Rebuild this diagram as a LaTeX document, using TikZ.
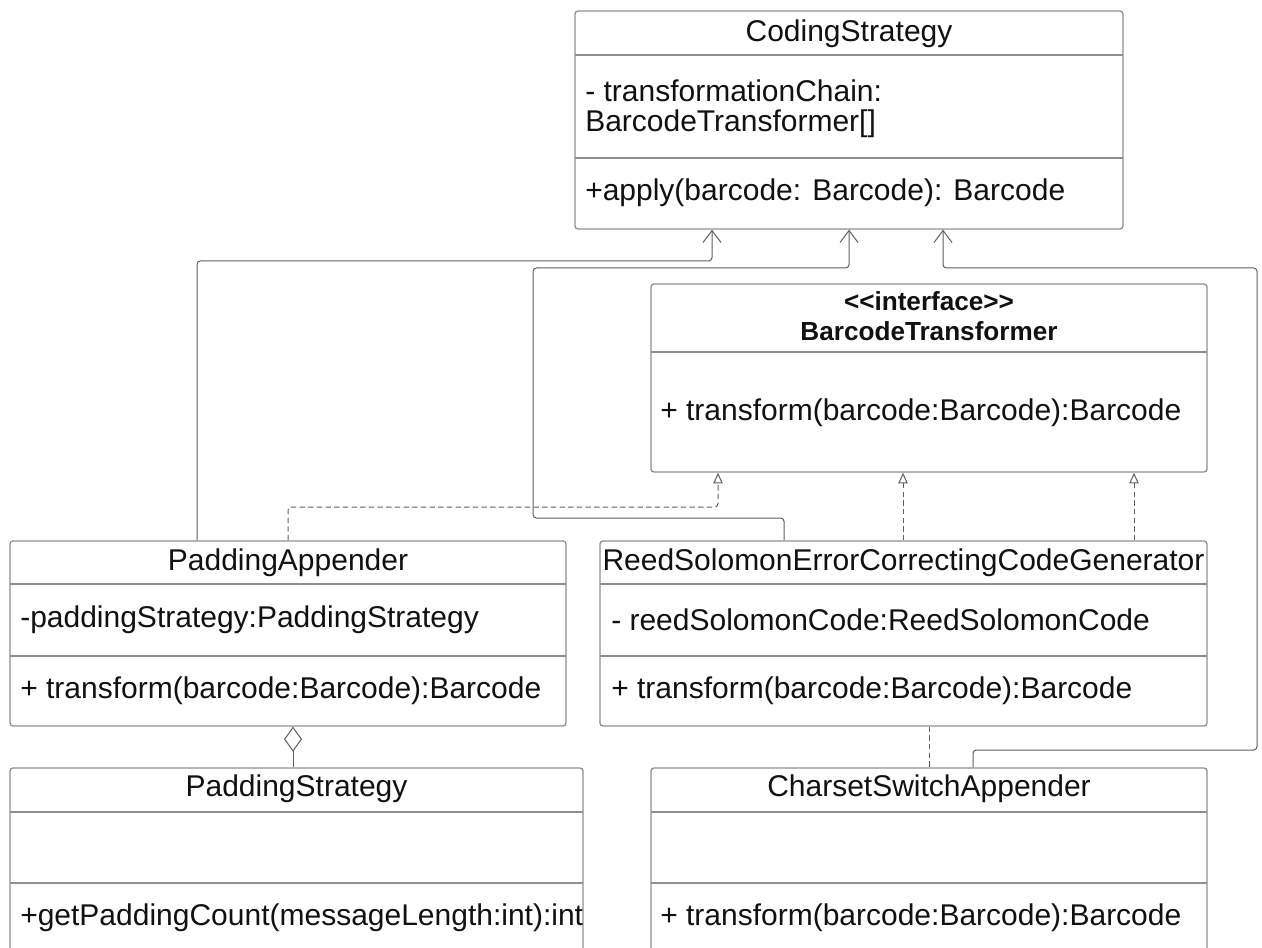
\documentclass[tikz,border=0pt]{standalone}
\usepackage{fontspec}
\setmainfont{Liberation Sans}
\usepackage{tikz}
\usetikzlibrary{arrows.meta, fit}
\definecolor{boxline}{HTML}{8C8F94}
\definecolor{wireline}{HTML}{5B5E64}
\definecolor{inktext}{HTML}{111111}
\tikzset{
  classbox/.style={draw=boxline, line width=1pt, rounded corners=2.25pt, inner sep=0pt},
  divider/.style={draw=boxline, line width=1pt},
  title/.style={font=\fontsize{22.5}{27}\selectfont, text=inktext, inner sep=0pt, yshift=-2.25pt},
  member/.style={title, anchor=west},
  stereo/.style={font=\fontsize{19.6}{24}\selectfont\bfseries, text=inktext, inner sep=0pt, yshift=-0.75pt},
  assoc/.style={-{Straight Barb[length=9pt, width=13.5pt]}, draw=wireline, line width=0.75pt, rounded corners=2.5pt},
  realize/.style={-{Triangle[open, length=8pt, width=7pt]}, draw=wireline, line width=0.75pt,
                  dash pattern=on 4pt off 2.5pt, rounded corners=2.5pt},
  aggr/.style={-{Diamond[open, length=18.75pt, width=13.5pt]}, draw=wireline, line width=0.75pt},
}
\begin{document}
\begin{tikzpicture}[x=0.75pt, y=-0.75pt]
  \path[use as bounding box, clip] (0,0) rectangle (1262,948);
  % classes
  \node[classbox, fit={(575,11) (1123,229)}] (coding) {};
  \draw[divider] (575,55) -- (1123,55) (575,158) -- (1123,158);
  \node[title] (codingname) at (849,31) {CodingStrategy};
  \node[member] (codingattr) at (585,88) {- transformationChain:};
  \node[member] (codingtype) at (585,121) {BarcodeTransformer[]};
  \node[member] (codingop) at (585,190) {+apply(barcode: Barcode): Barcode};

  \node[classbox, fit={(651,284) (1207,472)}] (iface) {};
  \draw[divider] (651,352) -- (1207,352);
  \node[stereo] (ifacestereo) at (929,300) {<{}<interface>{}>};
  \node[stereo] (ifacename) at (929,330) {BarcodeTransformer};
  \node[member] (ifaceop) at (660,410) {+ transform(barcode:Barcode):Barcode};

  \node[classbox, fit={(10,541) (566,726)}] (padapp) {};
  \draw[divider] (10,584) -- (566,584) (10,656) -- (566,656);
  \node[title] (padappname) at (288,560) {PaddingAppender};
  \node[member] (padappattr) at (20,617) {-paddingStrategy:PaddingStrategy};
  \node[member] (padappop) at (20,688) {+ transform(barcode:Barcode):Barcode};

  \node[classbox, fit={(600,541) (1207,726)}] (rs) {};
  \draw[divider] (600,584) -- (1207,584) (600,656) -- (1207,656);
  \node[title] (rsname) at (903.5,560) {ReedSolomonErrorCorrectingCodeGenerator};
  \node[member] (rsattr) at (611,617) {- reedSolomonCode:ReedSolomonCode};
  \node[member] (rsop) at (611,688) {+ transform(barcode:Barcode):Barcode};

  \node[classbox, fit={(10,768) (583,980)}] (padstrat) {};
  \draw[divider] (10,812) -- (583,812) (10,883) -- (583,883);
  \node[title] (padstratname) at (296.5,786) {PaddingStrategy};
  \node[member] (padstratop) at (20,915) {+getPaddingCount(messageLength:int):int};

  \node[classbox, fit={(651,768) (1207,980)}] (charset) {};
  \draw[divider] (651,812) -- (1207,812) (651,883) -- (1207,883);
  \node[title] (charsetname) at (929,786) {CharsetSwitchAppender};
  \node[member] (charsetop) at (660,915) {+ transform(barcode:Barcode):Barcode};

  % relations
  \draw[assoc] (padapp.north -| 197,0) |- (712,261) -- (coding.south -| 712,0);
  \draw[assoc] (rs.north -| 784,0) -- (784,518) -| (533,268) -| (coding.south -| 849,0);
  \draw[assoc] (charset.north -| 973,0) |- (1257,750) |- (943,268) -- (coding.south -| 943,0);
  \draw[realize] (padapp.north -| 288,0) |- (718,507) -- (iface.south -| 718,0);
  \draw[realize] (rs.north -| 903,0) -- (iface.south -| 903,0);
  \draw[realize] (rs.north -| 1134,0) -- (iface.south -| 1134,0);
  \draw[draw=wireline, line width=0.75pt, dash pattern=on 4pt off 2.5pt] (rs.south -| 929,0) -- (charset.north -| 929,0);
  \draw[aggr] (padstrat.north -| 293,0) -- (padapp.south -| 293,0);
\end{tikzpicture}
\end{document}
